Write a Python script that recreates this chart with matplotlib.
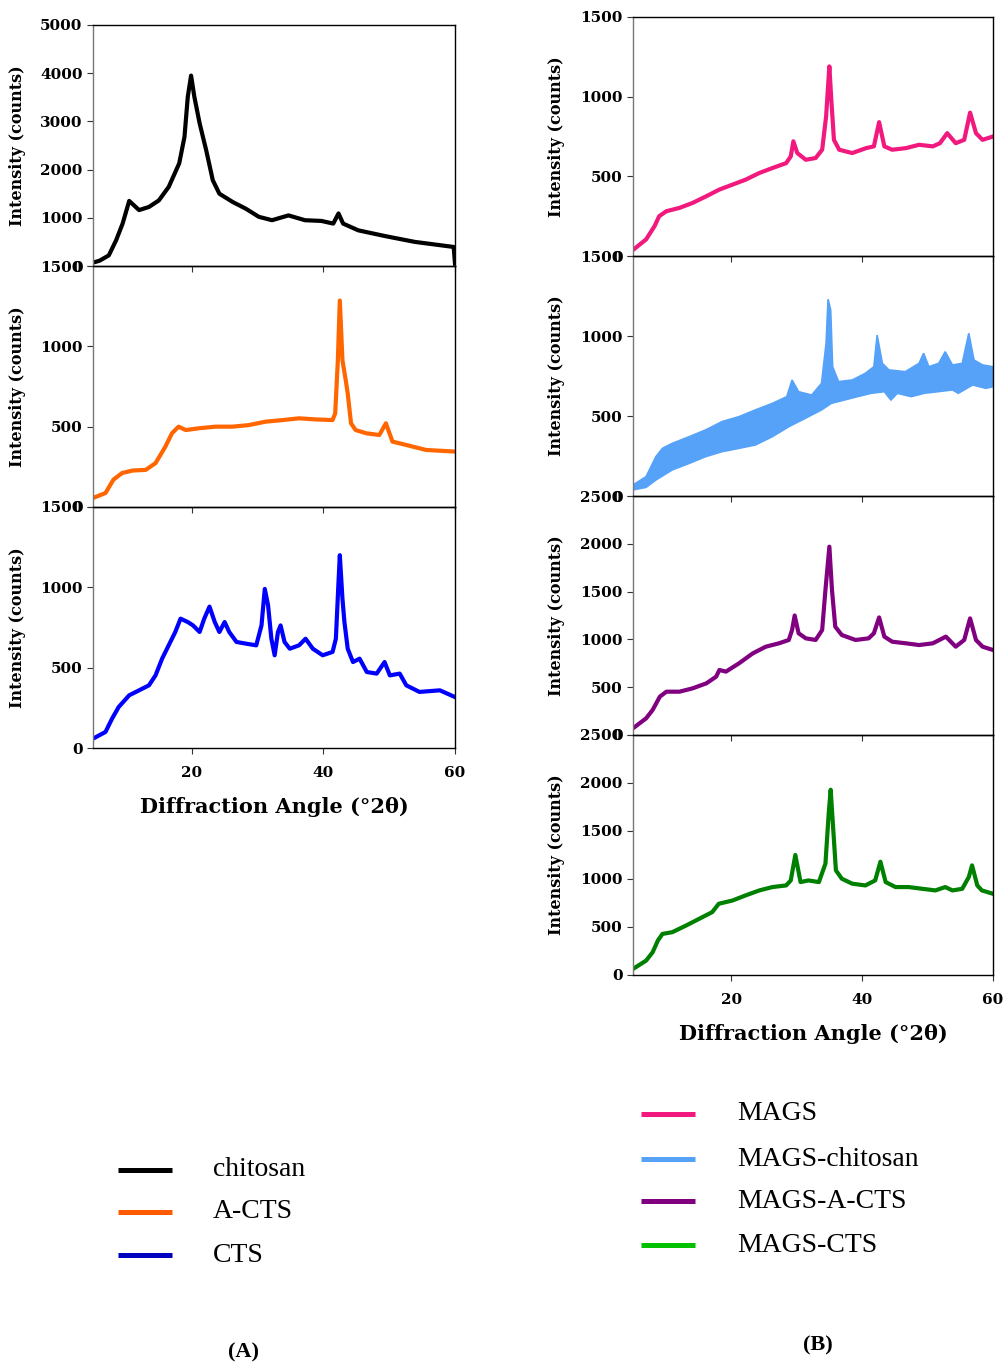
import numpy as np
import matplotlib
matplotlib.use("Agg")
import matplotlib.pyplot as plt
from matplotlib.lines import Line2D

# ---------------- data ----------------
chitosan_x = [5.0, 6.0, 7.4, 8.5, 9.5, 10.5, 12.0, 13.5, 15.0, 16.5, 18.1, 18.9, 19.4, 19.9, 20.4, 21.2,
              22.2, 23.2, 24.2, 26.2, 28.2, 30.2, 32.2, 34.7, 37.2, 39.7, 41.5, 42.3, 43.0, 45.3,
              49.4, 53.9, 59.8, 60.0]
chitosan_y = [70, 110, 220, 530, 880, 1350, 1160, 1225, 1360, 1640, 2130, 2680, 3510, 3950, 3510, 2960,
              2400, 1780, 1500, 1330, 1190, 1020, 950, 1050, 950, 935, 880, 1090, 880, 740,
              620, 500, 395, 50]

acts_x = [5.0, 6.9, 8.1, 9.4, 11.0, 13.0, 14.5, 16.0, 17.0, 18.0, 19.1, 21.1, 23.6, 26.2, 28.7, 31.2,
          33.8, 36.3, 38.9, 41.4, 41.8, 42.2, 42.5, 42.9, 43.4, 43.7, 44.2, 44.9, 46.5, 48.5,
          49.5, 50.5, 52.6, 55.6, 60.0]
acts_y = [56, 87, 170, 211, 227, 231, 273, 376, 459, 500, 479, 490, 500, 500, 510, 531,
          541, 552, 545, 541, 583, 913, 1285, 913, 789, 707, 521, 479, 459, 448,
          521, 407, 386, 355, 345]

cts_x = [5.0, 6.9, 7.9, 8.9, 10.5, 12.0, 13.5, 14.5, 15.5, 16.5, 17.5, 18.3, 19.4, 20.2, 21.2, 21.9,
         22.7, 23.5, 24.2, 25.0, 25.7, 26.8, 28.3, 29.8, 30.6, 31.1, 31.6, 32.1, 32.6, 33.1,
         33.5, 34.1, 34.9, 36.3, 37.3, 38.4, 39.9, 41.4, 41.9, 42.3, 42.5, 42.9, 43.2, 43.7,
         44.5, 45.5, 46.6, 48.1, 49.3, 50.1, 51.6, 52.6, 54.6, 57.7, 60.0]
cts_y = [58, 100, 183, 255, 328, 359, 390, 452, 556, 639, 722, 805, 784, 763, 722, 805,
         880, 784, 722, 784, 722, 660, 649, 639, 763, 990, 888, 680, 577, 722,
         763, 660, 618, 639, 680, 618, 577, 598, 680, 1033, 1200, 929, 784, 618,
         535, 556, 473, 463, 535, 452, 463, 390, 349, 359, 317]

mags_x = [5.0, 7.0, 8.3, 9.0, 10.1, 12.1, 14.1, 16.2, 18.2, 20.2, 22.2, 24.3, 26.3, 28.4, 29.1, 29.5,
          30.1, 31.4, 32.9, 33.9, 34.5, 35.0, 35.3, 35.7, 36.5, 38.5, 40.6, 41.8, 42.6, 43.4,
          44.6, 46.7, 48.7, 50.8, 51.9, 53.0, 54.3, 55.6, 56.5, 57.4, 58.4, 60.0]
mags_y = [38, 104, 188, 250, 281, 302, 333, 375, 417, 448, 479, 521, 552, 583, 625, 720,
          646, 604, 615, 667, 875, 1190, 979, 729, 667, 646, 677, 688, 840, 688,
          667, 677, 698, 688, 708, 771, 708, 729, 900, 771, 729, 750]

magschi_upper_x = [5.0, 7.0, 8.5, 9.5, 11.0, 13.6, 16.1, 18.6, 21.2, 23.7, 26.3, 28.5, 29.3, 30.3, 32.3,
                   33.8, 34.5, 34.8, 35.2, 35.5, 36.4, 38.5, 40.5, 41.8, 42.3, 43.1, 44.1, 46.6,
                   48.7, 49.4, 50.2, 51.7, 52.7, 53.8, 55.3, 56.3, 57.1, 58.4, 60.0]
magschi_upper_y = [69, 121, 246, 298, 329, 371, 413, 465, 496, 538, 579, 621, 725, 652, 631,
                   704, 954, 1230, 1163, 808, 715, 725, 767, 808, 1006, 829, 788, 777,
                   829, 892, 808, 829, 902, 819, 829, 1017, 850, 819, 808]
magschi_lower_x = [5.0, 7.0, 8.5, 11.0, 13.6, 16.1, 18.6, 21.2, 23.7, 26.3, 28.8, 31.3, 33.8, 35.3,
                   37.3, 39.3, 41.4, 43.4, 44.4, 45.4, 47.5, 49.5, 51.6, 53.8, 54.7, 56.9, 58.9, 60.0]
magschi_lower_y = [38, 54, 100, 163, 204, 246, 277, 298, 319, 371, 433, 485, 538, 579,
                   600, 621, 642, 652, 600, 642, 621, 642, 652, 663, 642, 694, 673, 683]

magsacts_x = [5.0, 7.0, 8.0, 9.1, 10.1, 12.1, 14.1, 16.2, 17.7, 18.2, 19.2, 21.2, 23.3, 25.3, 27.3,
              28.8, 29.3, 29.7, 30.3, 31.4, 32.9, 33.9, 34.4, 35.0, 35.4, 35.9, 36.9, 39.0, 41.0,
              41.8, 42.6, 43.4, 44.6, 46.7, 48.7, 50.8, 52.8, 54.3, 55.6, 56.5, 57.4, 58.4, 60.0]
magsacts_y = [70, 174, 262, 401, 453, 453, 488, 540, 610, 680, 663, 750, 854, 924, 959,
              994, 1098, 1250, 1064, 1011, 994, 1098, 1517, 1970, 1517, 1133, 1046, 994, 1011,
              1064, 1230, 1029, 976, 959, 941, 959, 1029, 924, 994, 1220, 994, 924, 889]

magscts_x = [5.0, 7.0, 8.0, 8.8, 9.5, 11.0, 13.1, 15.1, 17.1, 18.1, 20.2, 22.2, 24.3, 26.3, 28.4,
             29.1, 29.8, 30.6, 31.8, 33.4, 34.4, 34.9, 35.2, 35.6, 36.0, 36.9, 38.5, 40.5, 42.0,
             42.8, 43.6, 45.1, 47.1, 49.2, 51.2, 52.7, 53.8, 55.3, 56.3, 56.8, 57.6, 58.3, 60.0]
magscts_y = [63, 150, 237, 359, 428, 446, 515, 585, 655, 742, 776, 829, 881, 916, 933,
             985, 1250, 968, 985, 968, 1160, 1682, 1930, 1508, 1090, 1003, 951, 933, 985,
             1180, 968, 916, 916, 898, 881, 916, 881, 898, 1020, 1142, 933, 881, 846]

left_labels = ["chitosan", "A-CTS", "CTS"]
left_colors = ["#000000", "#FF6600", "#0000FF"]
left_legend_colors = ["#000000", "#FF5A00", "#0000C0"]
left_ymax = [5000, 1500, 1500]
left_ystep = [1000, 500, 500]

right_labels = ["MAGS", "MAGS-chitosan", "MAGS-A-CTS", "MAGS-CTS"]
right_colors = ["#F2197E", "#55A2F8", "#800080", "#008000"]
right_legend_colors = ["#F2197E", "#55A2F8", "#800080", "#00C000"]
right_ymax = [1500, 1500, 2500, 2500]
right_ystep = [500, 500, 500, 500]

x_ticks = [20, 40, 60]
xlabel = "Diffraction Angle (°2θ)"
ylabel = "Intensity (counts)"

# ---------------- figure ----------------
fig = plt.figure(figsize=(10.05, 13.65), dpi=100)
W, H = 1005.0, 1365.0

def box(x0, x1, ytop, ybot):
    return [x0 / W, 1 - ybot / H, (x1 - x0) / W, (ybot - ytop) / H]

lab_font = dict(family="DejaVu Serif", weight="bold")

def style(ax, ymax, ystep, show_x):
    ax.set_xlim(5, 60)
    ax.set_ylim(0, ymax)
    ax.set_xticks(x_ticks)
    ax.set_yticks(np.arange(0, ymax + 1, ystep))
    ax.tick_params(direction="out", length=4, width=0.8, colors="#333333")
    for lab in ax.get_yticklabels() + ax.get_xticklabels():
        lab.set_fontfamily("DejaVu Serif")
        lab.set_fontweight("bold")
        lab.set_fontsize(11)
        lab.set_color("black")
    if not show_x:
        ax.tick_params(labelbottom=False)
    else:
        ax.tick_params(axis="x", pad=9)
    for s in ["top", "right", "bottom"]:
        ax.spines[s].set_color("black")
        ax.spines[s].set_linewidth(1.0)
    ax.spines["left"].set_color("#777777")
    ax.spines["left"].set_linewidth(1.0)
    ax.set_ylabel(ylabel, fontsize=11.5, **lab_font)
    ax.set_facecolor("none")

left_bounds = [(25, 266), (266, 507), (507, 748)]
left_data = [(chitosan_x, chitosan_y), (acts_x, acts_y), (cts_x, cts_y)]
left_axes = []
for i, ((yt, yb), (xs, ys)) in enumerate(zip(left_bounds, left_data)):
    ax = fig.add_axes(box(93, 455, yt, yb))
    ax.plot(xs, ys, color=left_colors[i], lw=3.0, solid_joinstyle="round")
    style(ax, left_ymax[i], left_ystep[i], i == 2)
    left_axes.append(ax)
left_axes[-1].set_xlabel(xlabel, fontsize=15, labelpad=12, **lab_font)
for ax in left_axes:
    ax.yaxis.set_label_coords(-0.185, 0.5)

right_bounds = [(17, 256), (256, 496), (496, 735), (735, 975)]
right_axes = []
for i, (yt, yb) in enumerate(right_bounds):
    ax = fig.add_axes(box(633, 993, yt, yb))
    if i == 0:
        ax.plot(mags_x, mags_y, color=right_colors[0], lw=3.0)
    elif i == 1:
        px = np.concatenate([magschi_upper_x, magschi_lower_x[::-1]])
        py = np.concatenate([magschi_upper_y, magschi_lower_y[::-1]])
        ax.fill(px, py, color=right_colors[1], lw=1.2, ec=right_colors[1])
    elif i == 2:
        ax.plot(magsacts_x, magsacts_y, color=right_colors[2], lw=3.0)
    else:
        ax.plot(magscts_x, magscts_y, color=right_colors[3], lw=3.0)
    style(ax, right_ymax[i], right_ystep[i], i == 3)
    right_axes.append(ax)
right_axes[-1].set_xlabel(xlabel, fontsize=15, labelpad=12, **lab_font)
for ax in right_axes:
    ax.yaxis.set_label_coords(-0.19, 0.5)

# legends
def draw_legend(x_line0, x_line1, x_text, ys, labels, colors):
    for y, lab, c in zip(ys, labels, colors):
        fig.add_artist(Line2D([x_line0 / W, x_line1 / W], [1 - y / H, 1 - y / H],
                              color=c, lw=3.6, solid_capstyle="butt"))
        fig.text(x_text / W, 1 - y / H, lab, ha="left", va="center",
                 family="Liberation Serif", fontsize=20)

draw_legend(118, 172, 213, [1170, 1212, 1255], left_labels, left_legend_colors)
draw_legend(641, 695, 737, [1114, 1159, 1201, 1245], right_labels, right_legend_colors)

fig.text(243 / W, 1 - 1352 / H, "(A)", ha="center", va="center",
         family="Liberation Serif", weight="bold", fontsize=16)
fig.text(818 / W, 1 - 1345 / H, "(B)", ha="center", va="center",
         family="Liberation Serif", weight="bold", fontsize=16)

fig.savefig("out.png", dpi=100, facecolor="white")
